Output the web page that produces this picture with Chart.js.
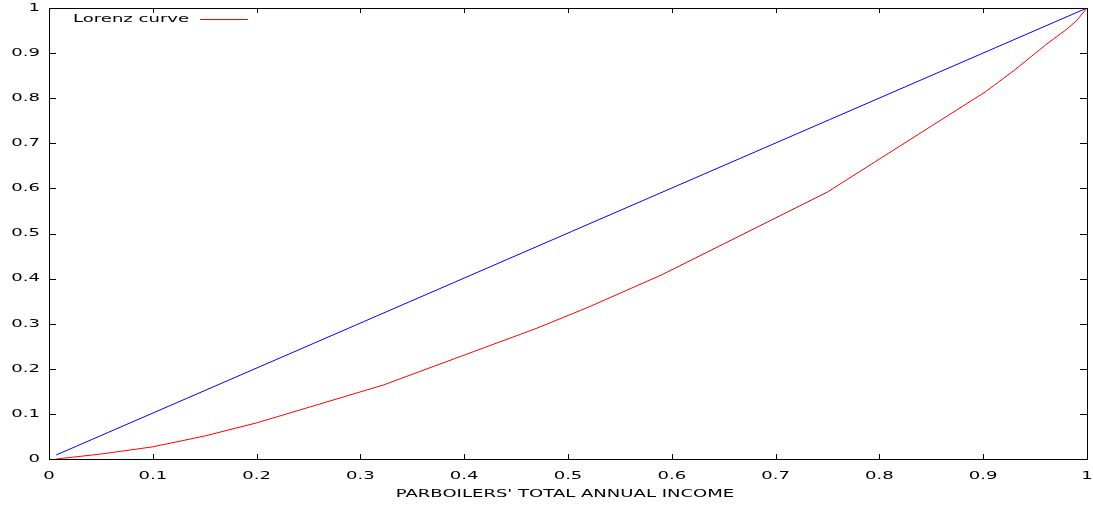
<!DOCTYPE html>
<html>
<head>
<meta charset="utf-8">
<script src="https://cdn.jsdelivr.net/npm/chart.js@4.4.0/dist/chart.umd.min.js"></script>
<style>
  html, body { margin: 0; padding: 0; background: #fff; }
  #wrap { width: 1093px; height: 505px; }
</style>
</head>
<body>
<div id="wrap"><canvas id="lorenzChart" width="1093" height="505"></canvas></div>
<script>
// data
const lorenzX = [0.007, 0.05, 0.1, 0.15, 0.2, 0.322, 0.47, 0.52, 0.59, 0.75, 0.902, 0.93, 0.96, 0.98, 0.99, 1];
const lorenzY = [0, 0.011, 0.027, 0.051, 0.08, 0.164, 0.29, 0.337, 0.408, 0.592, 0.814, 0.862, 0.918, 0.952, 0.972, 1];
const equalityX = [0.007, 1];
const equalityY = [0.009, 1];
const xTickLabels = ['0', '0.1', '0.2', '0.3', '0.4', '0.5', '0.6', '0.7', '0.8', '0.9', '1'];
const yTickLabels = ['0', '0.1', '0.2', '0.3', '0.4', '0.5', '0.6', '0.7', '0.8', '0.9', '1'];
const xTitle = "PARBOILERS' TOTAL ANNUAL INCOME";

const FONT = '11px "DejaVu Sans"';
const STRETCH = 1.64; // text in the picture is wide

function toPoints(xs, ys) {
    return xs.map((x, i) => ({ x: x, y: ys[i] }));
}

// draw text stretched wide like the original
function wideText(ctx, text, x, y, align) {
    ctx.save();
    ctx.font = FONT;
    ctx.textBaseline = 'middle';
    ctx.textAlign = 'left';
    const w = ctx.measureText(text).width * STRETCH;
    let x0 = x;
    if (align === 'center') x0 = x - w / 2;
    if (align === 'right') x0 = x - w;
    ctx.translate(x0, y);
    ctx.scale(STRETCH, 1);
    ctx.fillStyle = '#000';
    ctx.fillText(text, 0, 0);
    ctx.restore();
}

const frame = {
    id: 'frame',
    afterDraw(chart) {
        const ctx = chart.ctx;
        const a = chart.chartArea;
        const xs = chart.scales.x, ys = chart.scales.y;
        ctx.save();
        ctx.strokeStyle = '#000';
        ctx.lineWidth = 1;
        ctx.strokeRect(a.left + 0.5, a.top + 0.5, a.right - a.left, a.bottom - a.top);

        ctx.beginPath();
        xTickLabels.forEach(t => {
            const px = Math.round(xs.getPixelForValue(parseFloat(t))) + 0.5;
            ctx.moveTo(px, a.bottom); ctx.lineTo(px, a.bottom - 5);
            ctx.moveTo(px, a.top); ctx.lineTo(px, a.top + 5);
        });
        yTickLabels.forEach(t => {
            const py = Math.round(ys.getPixelForValue(parseFloat(t))) + 0.5;
            ctx.moveTo(a.left, py); ctx.lineTo(a.left + 7, py);
            ctx.moveTo(a.right, py); ctx.lineTo(a.right - 7, py);
        });
        ctx.stroke();

        xTickLabels.forEach(t => {
            wideText(ctx, t, xs.getPixelForValue(parseFloat(t)), a.bottom + 17, 'center');
        });
        yTickLabels.forEach(t => {
            wideText(ctx, t, a.left - 9, ys.getPixelForValue(parseFloat(t)), 'right');
        });
        wideText(ctx, xTitle, (a.left + a.right) / 2 - 3, a.bottom + 35, 'center');

        // key: text then line sample
        const ds = chart.data.datasets[0];
        wideText(ctx, ds.label, a.left + 24, a.top + 11, 'left');
        ctx.strokeStyle = ds.borderColor;
        ctx.beginPath();
        ctx.moveTo(200, a.top + 11.5);
        ctx.lineTo(248, a.top + 11.5);
        ctx.stroke();
        ctx.restore();
    }
};

new Chart(document.getElementById('lorenzChart').getContext('2d'), {
    type: 'scatter',
    data: {
        datasets: [
            {
                label: 'Lorenz curve',
                data: toPoints(lorenzX, lorenzY),
                showLine: true,
                borderColor: '#ff0000',
                borderWidth: 1,
                pointRadius: 0,
                tension: 0
            },
            {
                label: 'equality',
                data: toPoints(equalityX, equalityY),
                showLine: true,
                borderColor: '#0000ff',
                borderWidth: 1,
                pointRadius: 0,
                tension: 0
            }
        ]
    },
    options: {
        responsive: false,
        animation: false,
        layout: { padding: { left: 49, right: 6, top: 8, bottom: 46 } },
        plugins: { legend: { display: false }, tooltip: { enabled: false } },
        scales: {
            x: { type: 'linear', min: 0, max: 1, display: false },
            y: { type: 'linear', min: 0, max: 1, display: false }
        }
    },
    plugins: [frame]
});
</script>
</body>
</html>
